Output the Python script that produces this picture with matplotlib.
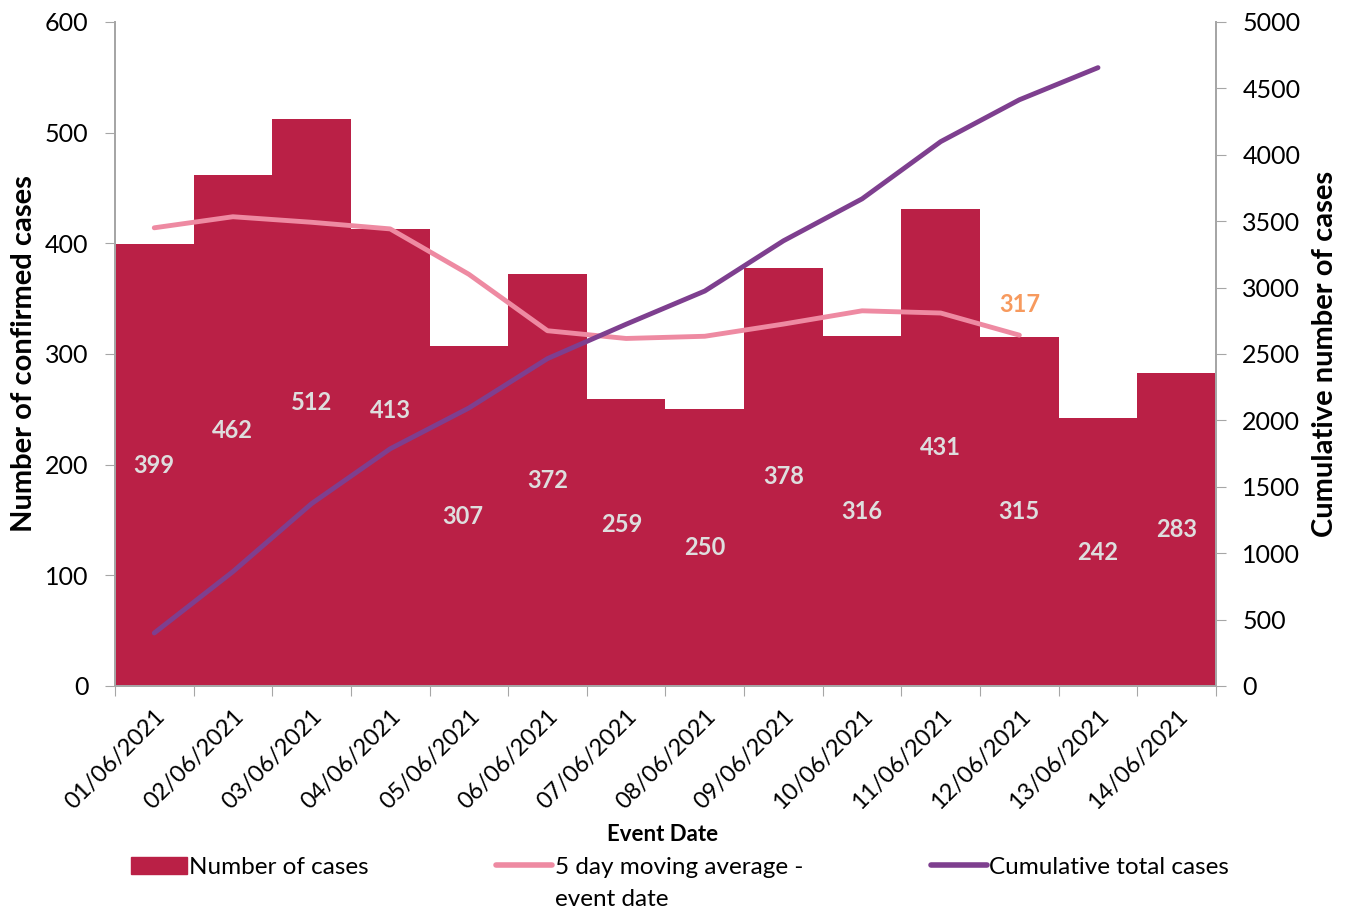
import numpy as np
import matplotlib
matplotlib.use("Agg")
import matplotlib.pyplot as plt
from matplotlib.patches import Patch
from matplotlib.lines import Line2D

plt.rcParams['font.family'] = ['Lato', 'DejaVu Sans']

# ==== data ====
dates = ["01/06/2021", "02/06/2021", "03/06/2021", "04/06/2021", "05/06/2021",
         "06/06/2021", "07/06/2021", "08/06/2021", "09/06/2021", "10/06/2021",
         "11/06/2021", "12/06/2021", "13/06/2021", "14/06/2021"]
cases = [399, 462, 512, 413, 307, 372, 259, 250, 378, 316, 431, 315, 242, 283]
moving_avg = [414, 424, 419, 413, 372, 321, 314, 316, 327, 339, 337, 317]
cumulative = [399, 861, 1373, 1786, 2093, 2465, 2724, 2974, 3352, 3668, 4099, 4414, 4656]

BAR_COL = "#BA2046"
AVG_COL = "#EE8AA2"
CUM_COL = "#7E3F8F"
LBL_COL = "#DEDEDE"
HI_COL = "#F79A5E"
SPINE = "#A6A6A6"

# label nudges (excel moved a few labels off the lines)
label_dy = {3: 42, 6: 16}
label_dx = {4: -0.08, 6: -0.06}

fig = plt.figure(figsize=(13.46, 9.15), dpi=100)
ax = fig.add_axes([0.0854, 0.2503, 0.8180, 0.7257])
ax2 = ax.twinx()

x = np.arange(len(dates))
ax.bar(x, cases, width=1.0, color=BAR_COL, zorder=1)
for i, (xi, v) in enumerate(zip(x, cases)):
    ax.text(xi + label_dx.get(i, 0), v / 2 + label_dy.get(i, 0), str(v),
            ha="center", va="center", fontsize=17, fontweight="bold",
            color=LBL_COL, zorder=3)

xa = np.arange(len(moving_avg))
ax.plot(xa, moving_avg, color=AVG_COL, lw=3.5, solid_capstyle="round", zorder=2)
ax.text(xa[-1], moving_avg[-1] + 28, str(moving_avg[-1]), ha="center", va="center",
        fontsize=17, fontweight="bold", color=HI_COL)

xc = np.arange(len(cumulative))
ax2.plot(xc, cumulative, color=CUM_COL, lw=3.5, solid_capstyle="round", zorder=2)

ax.set_xlim(-0.5, len(dates) - 0.5)
ax.set_ylim(0, 600)
ax2.set_ylim(0, 5000)
ax.set_yticks(np.arange(0, 601, 100))
ax2.set_yticks(np.arange(0, 5001, 500))

# ticks at category boundaries, labels at category centres
ax.set_xticks(np.arange(-0.5, len(dates), 1.0))
ax.set_xticklabels([])
ax.set_xticks(x, minor=True)
ax.set_xticklabels(dates, minor=True, rotation=45, ha="right", rotation_mode="anchor",
                   fontsize=17)
ax.tick_params(axis="x", which="minor", length=0, pad=14)
ax.tick_params(axis="x", which="major", length=7, color=SPINE, direction="out")
ax.tick_params(axis="y", length=7, color=SPINE, labelsize=18, pad=12)
ax2.tick_params(axis="y", length=7, color=SPINE, labelsize=18, pad=12)

for a in (ax, ax2):
    a.spines["top"].set_visible(False)
    for s in ("left", "right", "bottom"):
        a.spines[s].set_color(SPINE)
        a.spines[s].set_linewidth(1.3)

ax.set_ylabel("Number of confirmed cases", fontsize=21, fontweight="bold", labelpad=6)
ax2.set_ylabel("Cumulative number of cases", fontsize=21, fontweight="bold", labelpad=8)
ax.set_xlabel("Event Date", fontsize=16, fontweight="bold")
ax.xaxis.set_label_coords(0.497, -0.208)

handles = [Patch(color=BAR_COL),
           Line2D([0], [0], color=AVG_COL, lw=4, solid_capstyle="round"),
           Line2D([0], [0], color=CUM_COL, lw=4, solid_capstyle="round")]
labels = ["Number of cases", "5 day moving average -", "Cumulative total cases"]
leg = fig.legend(handles, labels, loc="center left", bbox_to_anchor=(0.090, 0.052),
                 ncol=3, frameon=False, fontsize=17.5, columnspacing=5.25,
                 handlelength=2.3, handletextpad=0.1, borderaxespad=0)

# second line of the moving-average legend label
fig.canvas.draw()
bb = leg.get_texts()[1].get_window_extent().transformed(fig.transFigure.inverted())
fig.text(bb.x0, bb.y0 - 0.012, "event date", fontsize=17.5, ha="left", va="top")

fig.savefig("out.png", dpi=100)
